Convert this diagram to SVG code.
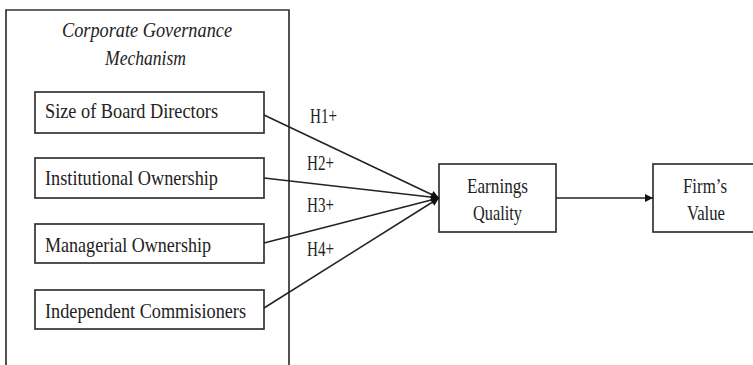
<svg xmlns="http://www.w3.org/2000/svg" width="753" height="365" viewBox="0 0 753 365">
  <style>
    .box { fill: #fff; stroke: #333; stroke-width: 1.7; }
    .frame { fill: none; stroke: #333; stroke-width: 1.7; }
    .lbl { font-family: "Liberation Serif", "Times New Roman", serif; font-size: 21px; fill: #222; }
    .it { font-style: italic; }
    .mid { text-anchor: middle; }
    .link { stroke: #222; stroke-width: 1.5; fill: none; }
  </style>
  <defs>
    <marker id="arrow" viewBox="0 0 10 10" refX="10" refY="5" markerWidth="9" markerHeight="8" markerUnits="userSpaceOnUse" orient="auto">
      <path d="M0,0 L10,5 L0,10 z" fill="#111"/>
    </marker>
  </defs>
  <rect width="753" height="365" fill="#fff"/>

  <!-- Corporate governance mechanism group -->
  <g id="governance">
    <path class="frame" d="M6,372 V10 H289 V372"/>
    <text class="lbl it" x="62" y="37" textLength="170" lengthAdjust="spacingAndGlyphs">Corporate Governance</text>
    <text class="lbl it" x="105" y="65" textLength="81" lengthAdjust="spacingAndGlyphs">Mechanism</text>
  </g>

  <g id="board-size">
    <rect class="box" x="35" y="92" width="229" height="41"/>
    <text class="lbl" x="45" y="118" textLength="173" lengthAdjust="spacingAndGlyphs">Size of Board Directors</text>
  </g>
  <g id="institutional">
    <rect class="box" x="35" y="158" width="229" height="40"/>
    <text class="lbl" x="45" y="185" textLength="173" lengthAdjust="spacingAndGlyphs">Institutional  Ownership</text>
  </g>
  <g id="managerial">
    <rect class="box" x="35" y="224" width="229" height="39"/>
    <text class="lbl" x="45" y="252" textLength="166" lengthAdjust="spacingAndGlyphs">Managerial  Ownership</text>
  </g>
  <g id="independent">
    <rect class="box" x="35" y="290" width="229" height="39"/>
    <text class="lbl" x="45" y="318" textLength="201" lengthAdjust="spacingAndGlyphs">Independent  Commisioners</text>
  </g>

  <g id="earnings-quality">
    <rect class="box" x="439" y="164" width="117" height="68"/>
    <text class="lbl mid" x="497.5" y="193" textLength="61" lengthAdjust="spacingAndGlyphs">Earnings</text>
    <text class="lbl mid" x="497.5" y="220" textLength="49" lengthAdjust="spacingAndGlyphs">Quality</text>
  </g>

  <g id="firm-value">
    <rect class="box" x="653" y="164" width="110" height="68"/>
    <text class="lbl mid" x="705" y="193" textLength="44" lengthAdjust="spacingAndGlyphs">Firm’s</text>
    <text class="lbl mid" x="706" y="220" textLength="38" lengthAdjust="spacingAndGlyphs">Value</text>
  </g>

  <!-- Connectors -->
  <g id="connectors">
    <line class="link" x1="264" y1="115" x2="439" y2="198" marker-end="url(#arrow)"/>
    <line class="link" x1="264" y1="178" x2="439" y2="198" marker-end="url(#arrow)"/>
    <line class="link" x1="264" y1="243" x2="439" y2="198" marker-end="url(#arrow)"/>
    <line class="link" x1="264" y1="308" x2="439" y2="198" marker-end="url(#arrow)"/>
    <line class="link" x1="556" y1="198" x2="653" y2="198" marker-end="url(#arrow)"/>
    <text class="lbl" x="310" y="123" textLength="27" lengthAdjust="spacingAndGlyphs">H1+</text>
    <text class="lbl" x="307" y="170" textLength="27" lengthAdjust="spacingAndGlyphs">H2+</text>
    <text class="lbl" x="307" y="212" textLength="27" lengthAdjust="spacingAndGlyphs">H3+</text>
    <text class="lbl" x="307" y="256" textLength="27" lengthAdjust="spacingAndGlyphs">H4+</text>
  </g>
</svg>
